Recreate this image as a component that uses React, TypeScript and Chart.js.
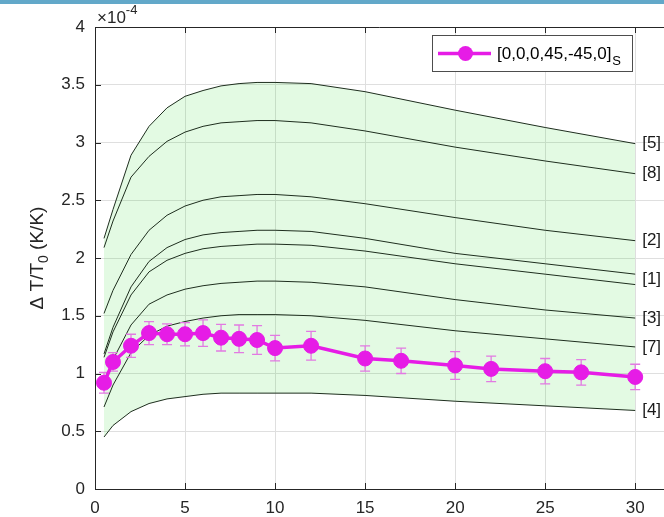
import React, { useEffect, useRef } from 'react';
import { Chart, registerables } from 'chart.js';

Chart.register(...registerables);

// ---- data (values in units of 1e-4 K/K) ----
const curveX = [0.5, 1, 2, 3, 4, 5, 6, 7, 8, 9, 10, 12, 15, 20, 25, 30];
const curve5 = [2.17, 2.42, 2.89, 3.14, 3.30, 3.40, 3.45, 3.49, 3.51, 3.52, 3.52, 3.51, 3.44, 3.28, 3.13, 2.99];
const curve8 = [2.09, 2.32, 2.70, 2.88, 3.01, 3.09, 3.14, 3.17, 3.18, 3.19, 3.19, 3.17, 3.10, 2.96, 2.84, 2.73];
const curve2 = [1.52, 1.72, 2.03, 2.24, 2.37, 2.45, 2.50, 2.53, 2.54, 2.55, 2.55, 2.53, 2.47, 2.35, 2.24, 2.15];
const curve1 = [1.17, 1.40, 1.75, 1.97, 2.09, 2.16, 2.20, 2.22, 2.23, 2.24, 2.24, 2.23, 2.17, 2.04, 1.95, 1.86];
const curve6 = [1.14, 1.36, 1.68, 1.88, 1.98, 2.04, 2.08, 2.10, 2.11, 2.12, 2.12, 2.11, 2.06, 1.95, 1.86, 1.77];
const curve3 = [0.93, 1.12, 1.42, 1.60, 1.68, 1.73, 1.76, 1.78, 1.79, 1.80, 1.80, 1.79, 1.75, 1.64, 1.55, 1.48];
const curve7 = [0.71, 0.90, 1.18, 1.33, 1.41, 1.45, 1.48, 1.50, 1.51, 1.51, 1.51, 1.50, 1.46, 1.37, 1.30, 1.23];
const curve4 = [0.45, 0.55, 0.67, 0.74, 0.78, 0.80, 0.82, 0.83, 0.83, 0.83, 0.83, 0.83, 0.81, 0.76, 0.72, 0.68];
const curves = [curve5, curve8, curve2, curve1, curve6, curve3, curve7, curve4];
const curveLabels = ['[5]', '[8]', '[2]', '[1]', '', '[3]', '[7]', '[4]'];

const measX = [0.5, 1, 2, 3, 4, 5, 6, 7, 8, 9, 10, 12, 15, 17, 20, 22, 25, 27, 30];
const measY = [0.92, 1.10, 1.24, 1.35, 1.34, 1.34, 1.35, 1.31, 1.30, 1.29, 1.22, 1.24, 1.13, 1.11, 1.07, 1.04, 1.02, 1.01, 0.97];
const measErr = [0.09, 0.08, 0.10, 0.10, 0.09, 0.10, 0.115, 0.115, 0.12, 0.125, 0.11, 0.125, 0.11, 0.11, 0.12, 0.11, 0.11, 0.11, 0.11];

const xTicks = [0, 5, 10, 15, 20, 25, 30];
const yTicks = [0, 0.5, 1, 1.5, 2, 2.5, 3, 3.5, 4];

const legendLabel = '[0,0,0,45,-45,0]';
const legendSub = 'S';
const yTitleMain = 'Δ T/T';
const yTitleSub = '0';
const yTitleTail = ' (K/K)';
const exponentBase = '×10';
const exponentPow = '-4';

// ---- style ----
const FONT = '"Liberation Sans", Arial, Helvetica, sans-serif';
const MAGENTA = '#e61ce6';
const ERR = '#e27ae2';
const AXIS = '#262626';
const GRID = '#dfdfdf';
const CURVE = '#1e2e1e';
const FILL = 'rgba(0,210,0,0.11)';

const decor = {
  id: 'decor',
  beforeDraw(chart: any) {
    const ctx = chart.ctx;
    ctx.save();
    ctx.fillStyle = '#ffffff';
    ctx.fillRect(0, 0, chart.width, chart.height);
    ctx.fillStyle = '#62a8c9';
    ctx.fillRect(0, 0, chart.width, 4);
    ctx.restore();
  },
  beforeDatasetDraw(chart: any, args: any) {
    if (args.index !== 0) return;
    const ctx = chart.ctx;
    const xs = chart.scales.x;
    const ys = chart.scales.y;
    ctx.save();
    ctx.strokeStyle = ERR;
    ctx.lineWidth = 1.3;
    for (let i = 0; i < measX.length; i++) {
      const px = xs.getPixelForValue(measX[i]);
      const t = ys.getPixelForValue(measY[i] + measErr[i]);
      const b = ys.getPixelForValue(measY[i] - measErr[i]);
      ctx.beginPath();
      ctx.moveTo(px, t);
      ctx.lineTo(px, b);
      ctx.moveTo(px - 5, t);
      ctx.lineTo(px + 5, t);
      ctx.moveTo(px - 5, b);
      ctx.lineTo(px + 5, b);
      ctx.stroke();
    }
    ctx.restore();
  },
  afterDraw(chart: any) {
    const ctx = chart.ctx;
    const ca = chart.chartArea;
    const xs = chart.scales.x;
    const ys = chart.scales.y;
    ctx.save();
    // top border + inward ticks
    ctx.strokeStyle = AXIS;
    ctx.lineWidth = 1;
    ctx.beginPath();
    ctx.moveTo(ca.left, ca.top + 0.5);
    ctx.lineTo(ca.right, ca.top + 0.5);
    for (const v of xTicks) {
      const px = Math.round(xs.getPixelForValue(v)) + 0.5;
      ctx.moveTo(px, ca.bottom);
      ctx.lineTo(px, ca.bottom - 6);
      ctx.moveTo(px, ca.top);
      ctx.lineTo(px, ca.top + 6);
    }
    for (const v of yTicks) {
      const py = Math.round(ys.getPixelForValue(v)) + 0.5;
      ctx.moveTo(ca.left, py);
      ctx.lineTo(ca.left + 6, py);
    }
    ctx.stroke();

    // curve labels
    ctx.fillStyle = '#1a1a1a';
    ctx.font = `17px ${FONT}`;
    ctx.textAlign = 'left';
    ctx.textBaseline = 'middle';
    const lx = xs.getPixelForValue(curveX[curveX.length - 1]) + 7;
    curves.forEach((c, i) => {
      if (!curveLabels[i]) return;
      let v = c[c.length - 1];
      const next = curves[i + 1];
      if (next && !curveLabels[i + 1]) v = (v + next[next.length - 1]) / 2;
      ctx.fillText(curveLabels[i], lx, ys.getPixelForValue(v));
    });

    // legend
    ctx.fillStyle = '#ffffff';
    ctx.fillRect(432.5, 35.5, 200, 36);
    ctx.strokeStyle = '#4d4d4d';
    ctx.lineWidth = 1;
    ctx.strokeRect(432.5, 35.5, 200, 36);
    ctx.strokeStyle = MAGENTA;
    ctx.lineWidth = 3.5;
    ctx.beginPath();
    ctx.moveTo(438, 53.5);
    ctx.lineTo(491, 53.5);
    ctx.stroke();
    ctx.fillStyle = MAGENTA;
    ctx.beginPath();
    ctx.arc(465.5, 53.5, 7.5, 0, Math.PI * 2);
    ctx.fill();
    ctx.fillStyle = '#000000';
    ctx.textBaseline = 'alphabetic';
    ctx.font = `17px ${FONT}`;
    ctx.fillText(legendLabel, 497, 59);
    const lw = ctx.measureText(legendLabel).width;
    ctx.font = `13px ${FONT}`;
    ctx.fillText(legendSub, 497 + lw + 1, 65);

    // exponent
    ctx.fillStyle = AXIS;
    ctx.font = `17px ${FONT}`;
    ctx.fillText(exponentBase, 97, 23);
    const ew = ctx.measureText(exponentBase).width;
    ctx.font = `13px ${FONT}`;
    ctx.fillText(exponentPow, 97 + ew, 14);

    // y title
    ctx.translate(43, 258);
    ctx.rotate(-Math.PI / 2);
    ctx.font = `19px ${FONT}`;
    const w1 = ctx.measureText(yTitleMain).width;
    const w3 = ctx.measureText(yTitleTail).width;
    ctx.font = `14px ${FONT}`;
    const w2 = ctx.measureText(yTitleSub).width;
    const total = w1 + w2 + w3;
    let x0 = -total / 2;
    ctx.font = `19px ${FONT}`;
    ctx.fillText(yTitleMain, x0, 0);
    x0 += w1;
    ctx.font = `14px ${FONT}`;
    ctx.fillText(yTitleSub, x0, 5);
    x0 += w2;
    ctx.font = `19px ${FONT}`;
    ctx.fillText(yTitleTail, x0, 0);
    ctx.restore();
  },
};

export default function App() {
  const ref = useRef<HTMLCanvasElement | null>(null);
  useEffect(() => {
    document.body.style.margin = '0';
    const canvas = ref.current;
    if (!canvas) return;
    const curveSets = curves.map((c, i) => ({
      label: curveLabels[i] || 'curve',
      data: curveX.map((x, j) => ({ x, y: c[j] })),
      borderColor: CURVE,
      borderWidth: 1,
      pointRadius: 0,
      tension: 0,
      fill: i === 0 ? 8 : false,
      backgroundColor: FILL,
    }));
    const chart = new Chart(canvas, {
      type: 'line',
      data: {
        datasets: [
          {
            label: legendLabel,
            data: measX.map((x, j) => ({ x, y: measY[j] })),
            borderColor: MAGENTA,
            borderWidth: 3.5,
            pointRadius: 7.5,
            pointBackgroundColor: MAGENTA,
            pointBorderColor: MAGENTA,
            pointBorderWidth: 1,
            tension: 0,
            fill: false,
          },
          ...curveSets,
        ] as any,
      },
      options: {
        animation: false,
        responsive: true,
        maintainAspectRatio: false,
        layout: { autoPadding: false, padding: { top: 27, right: 0, left: 0, bottom: 0 } },
        plugins: {
          legend: { display: false },
          tooltip: { enabled: false },
          filler: { propagate: false, drawTime: 'beforeDatasetsDraw' } as any,
        },
        scales: {
          x: {
            type: 'linear',
            min: 0,
            max: 31.6,
            afterBuildTicks: (s: any) => {
              s.ticks = xTicks.map((v) => ({ value: v }));
            },
            afterFit: (s: any) => {
              s.height = 28;
            },
            grid: { color: GRID, drawTicks: false },
            border: { color: AXIS, width: 1 },
            ticks: {
              font: { family: FONT, size: 17 },
              color: AXIS,
              padding: 9,
              maxRotation: 0,
              callback: (v: any) => String(v),
            },
          },
          y: {
            type: 'linear',
            min: 0,
            max: 4,
            afterBuildTicks: (s: any) => {
              s.ticks = yTicks.map((v) => ({ value: v }));
            },
            afterFit: (s: any) => {
              s.width = 95;
            },
            grid: { color: GRID, drawTicks: false },
            border: { color: AXIS, width: 1 },
            ticks: {
              font: { family: FONT, size: 17 },
              color: AXIS,
              padding: 10,
              callback: (v: any) => String(v),
            },
          },
        },
      },
      plugins: [decor],
    });
    return () => chart.destroy();
  }, []);
  return (
    <div style={{ position: 'absolute', left: 0, top: 0, width: 664, height: 517 }}>
      <canvas ref={ref} />
    </div>
  );
}
